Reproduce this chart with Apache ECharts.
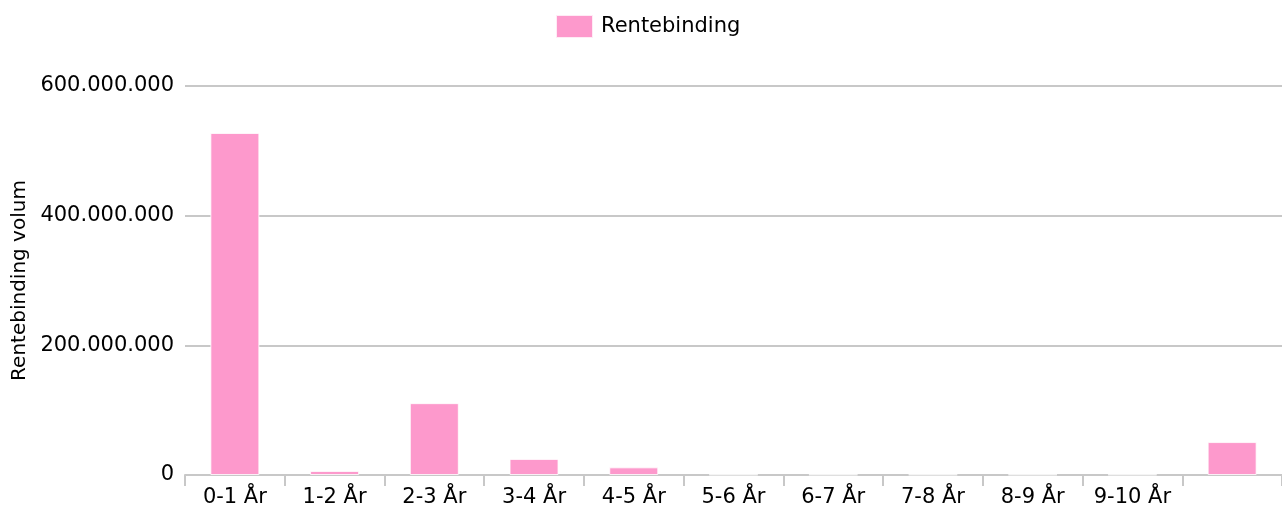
<!DOCTYPE html>
<html>
<head>
<meta charset="utf-8">
<script src="https://cdn.jsdelivr.net/npm/echarts@6/dist/echarts.min.js"></script>
<style>
  html, body { margin: 0; padding: 0; background: #fff; }
  #bar-chart { width: 1282px; height: 508px; }
</style>
</head>
<body>
<div id="bar-chart"></div>
<script>
var categories = ['0-1 År', '1-2 År', '2-3 År', '3-4 År', '4-5 År', '5-6 År', '6-7 År', '7-8 År', '8-9 År', '9-10 År', ''];
var volumes = [527500000, 6200000, 110800000, 24800000, 11800000, 600000, 600000, 600000, 600000, 600000, 50800000];
var yTicks = [0, 200000000, 400000000, 600000000];

function fmt(v) {
    return String(v).replace(/\B(?=(\d{3})+(?!\d))/g, '.');
}

var myChart = echarts.init(document.getElementById('bar-chart'));
var font = 'DejaVu Sans';

myChart.setOption({
    animation: false,
    textStyle: { fontFamily: font },
    legend: {
        top: 9,
        left: 550,
        icon: 'rect',
        itemWidth: 37,
        itemHeight: 23,
        itemGap: 10,
        textStyle: { fontFamily: font, fontSize: 21, color: '#000', padding: [0, 0, 0, 3] },
        data: ['Rentebinding']
    },
    grid: { left: 185, right: 0, top: 86, bottom: 32 },
    xAxis: {
        type: 'category',
        data: categories,
        axisLine: { lineStyle: { color: '#c8c8c8', width: 2 } },
        axisTick: { show: true, length: 11, lineStyle: { color: '#c8c8c8', width: 2 } },
        axisLabel: { fontFamily: font, fontSize: 21, color: '#000', margin: 12, interval: 0 }
    },
    yAxis: {
        type: 'value',
        min: yTicks[0],
        max: yTicks[yTicks.length - 1],
        interval: yTicks[1] - yTicks[0],
        name: 'Rentebinding volum',
        nameLocation: 'middle',
        nameRotate: 90,
        nameGap: 153,
        nameTextStyle: { fontFamily: font, fontSize: 20, color: '#000' },
        axisLine: { show: false },
        axisTick: { show: false },
        splitLine: { lineStyle: { color: '#c8c8c8', width: 2 } },
        axisLabel: {
            fontFamily: font, fontSize: 21, color: '#000', margin: 11,
            formatter: function (v) { return fmt(v); }
        }
    },
    series: [{
        name: 'Rentebinding',
        type: 'bar',
        data: volumes,
        barWidth: 49,
        itemStyle: { color: '#fd99cc', borderColor: 'rgba(255,255,255,0.8)', borderWidth: 1 }
    }]
});
</script>
</body>
</html>
